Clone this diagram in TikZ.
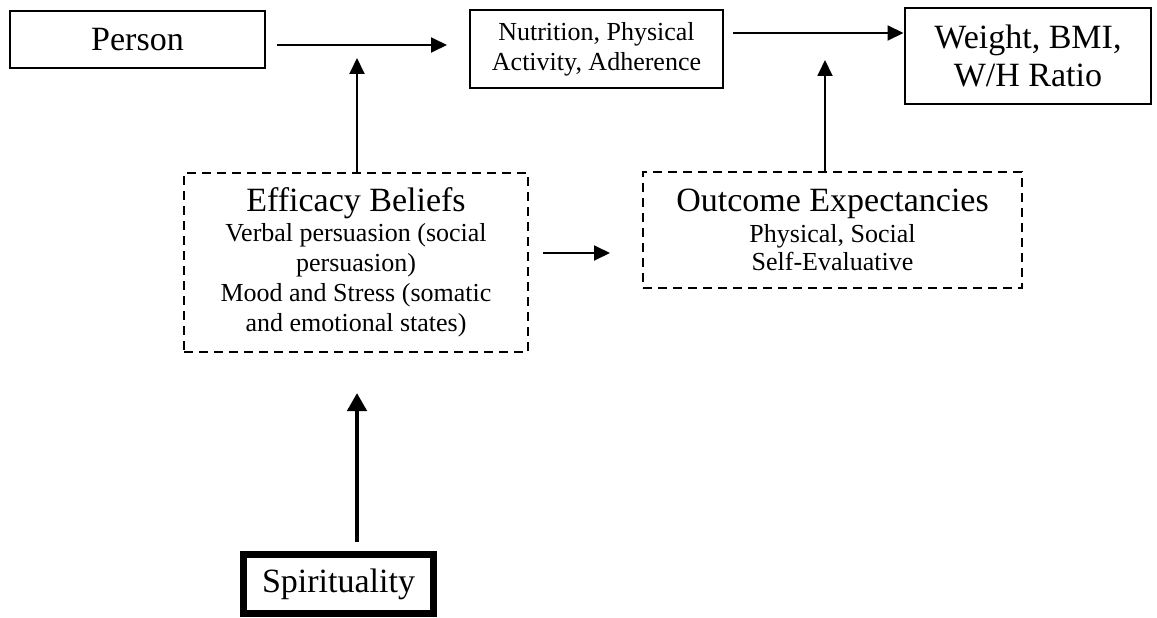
\documentclass[tikz,border=0pt]{standalone}
\usepackage{fontspec}
\setmainfont{Liberation Serif}
\usetikzlibrary{arrows.meta,calc}
\begin{document}
\begin{tikzpicture}[x=1pt,y=-1pt,
  box/.style={draw, line width=1.7pt, inner sep=0pt, outer sep=0pt, align=center},
  dbox/.style={box, line width=1.5pt, dash pattern=on 9pt off 6pt},
  arr/.style={line width=1.9pt, -{Triangle[length=16pt,width=15pt]}},
  thickarr/.style={line width=4.5pt, -{Triangle[length=18pt,width=19pt]}},
  bigfont/.style={font=\fontsize{34}{38}\selectfont},
  smallfont/.style={font=\fontsize{26}{30}\selectfont}]
\useasboundingbox[fill=white] (0,0) rectangle (1157,618);

\node[box, bigfont, minimum width=255pt, minimum height=57pt] (person) at (137.5,39.5) {Person};
\node[box, smallfont, minimum width=253pt, minimum height=78pt] (nutr) at (596.5,49) {Nutrition, Physical\\Activity, Adherence};
\node[box, bigfont, minimum width=246pt, minimum height=96pt] (weight) at (1028,56) {Weight, BMI,\\W/H Ratio};
\node[dbox, smallfont, minimum width=344pt, minimum height=179pt] (eff) at (356,262.5)
  {{\fontsize{34}{38}\selectfont Efficacy Beliefs}\\Verbal persuasion (social\\persuasion)\\Mood and Stress (somatic\\and emotional states)};
\node[dbox, font=\fontsize{26}{28}\selectfont, minimum width=379pt, minimum height=116pt] (outc) at (832.5,230)
  {{\fontsize{34}{38}\selectfont Outcome Expectancies}\\[3pt]Physical, Social\\Self-Evaluative};
\node[box, bigfont, line width=7pt, minimum width=190pt, minimum height=59pt] (spir) at (338.5,584) {Spirituality};

\coordinate (j1) at ($(eff.north)+(1,-115)$);
\coordinate (j2) at ($(outc.north)+(-7.5,-112)$);

\draw[arr] ($(person.east)+(12,5.5)$) -- ($(nutr.west)+(-23,-4)$);
\draw[arr] ($(nutr.east)+(10,-16)$) -- ($(weight.west)+(-1.5,-23)$);
\draw[arr] ($(eff.north)+(1,0)$) -- (j1);
\draw[arr] ($(outc.north)+(-7.5,0)$) -- (j2);
\draw[arr] ($(eff.east)+(15,-9.5)$) -- ($(outc.west)+(-33,23)$);
\draw[thickarr] ($(spir.north)+(18.5,-12.5)$) -- ($(eff.south)+(1,41)$);
\end{tikzpicture}
\end{document}
